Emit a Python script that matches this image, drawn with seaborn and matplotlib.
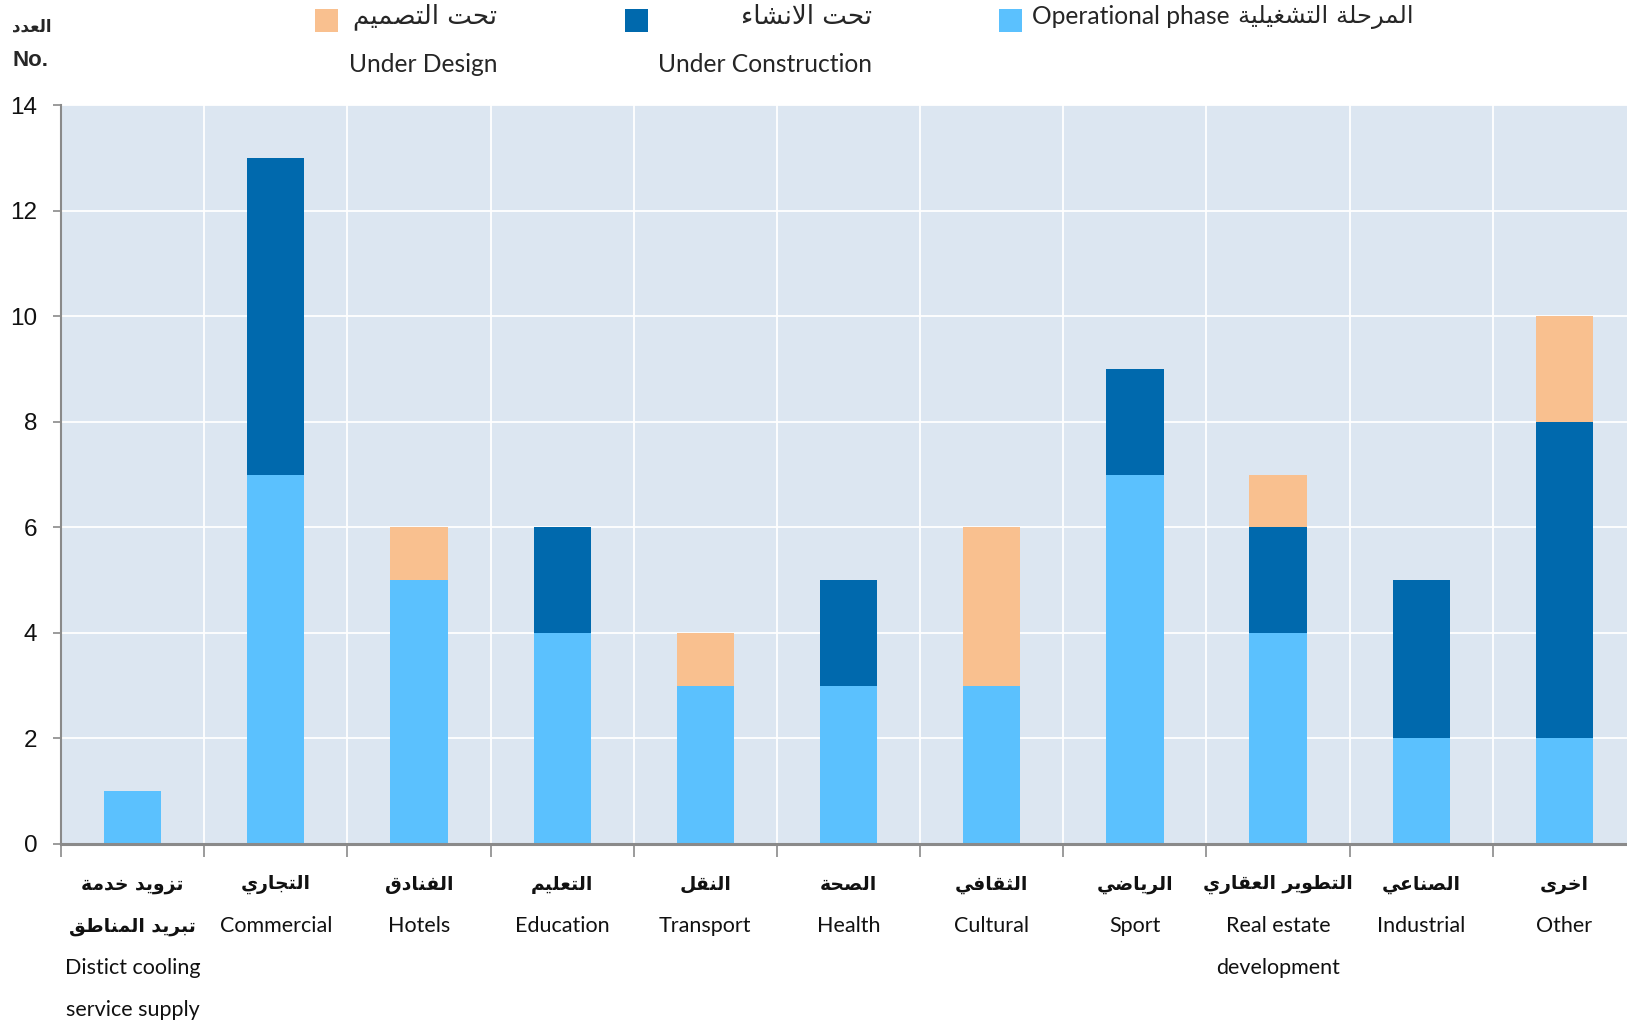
import numpy as np
import matplotlib
matplotlib.use("Agg")
import matplotlib.pyplot as plt
from matplotlib.patches import Rectangle
from matplotlib.transforms import blended_transform_factory
import seaborn as sns

# ---- data -------------------------------------------------------------
labels_ar = [["تزويد خدمة", "تبريد المناطق"], ["التجاري"], ["الفنادق"], ["التعليم"],
             ["النقل"], ["الصحة"], ["الثقافي"], ["الرياضي"], ["التطوير العقاري"],
             ["الصناعي"], ["اخرى"]]
labels_en = [["Distict cooling", "service supply"], ["Commercial"], ["Hotels"],
             ["Education"], ["Transport"], ["Health"], ["Cultural"], ["Sport"],
             ["Real estate", "development"], ["Industrial"], ["Other"]]
operational = [1, 7, 5, 4, 3, 3, 3, 7, 4, 2, 2]
under_construction = [0, 6, 0, 2, 0, 2, 0, 2, 2, 3, 6]
under_design = [0, 0, 1, 0, 1, 0, 3, 0, 1, 0, 2]
y_ticks = [0, 2, 4, 6, 8, 10, 12, 14]

C_OP = "#5bc1fe"
C_UC = "#0069ad"
C_UD = "#f9c08f"
BG = "#dce6f1"

# ---- minimal Arabic shaping (contextual forms + right-to-left order) --
_dual = {"ب": 0xFE8F, "ت": 0xFE95, "ث": 0xFE99, "ج": 0xFE9D, "ح": 0xFEA1, "خ": 0xFEA5,
         "س": 0xFEB1, "ش": 0xFEB5, "ص": 0xFEB9, "ض": 0xFEBD, "ط": 0xFEC1, "ظ": 0xFEC5,
         "ع": 0xFEC9, "غ": 0xFECD, "ف": 0xFED1, "ق": 0xFED5, "ك": 0xFED9, "ل": 0xFEDD,
         "م": 0xFEE1, "ن": 0xFEE5, "ه": 0xFEE9, "ي": 0xFEF1}
_right = {"ا": 0xFE8D, "ة": 0xFE93, "د": 0xFEA9, "ذ": 0xFEAB, "ر": 0xFEAD, "ز": 0xFEAF,
          "و": 0xFEED, "ى": 0xFEEF}
FORMS = {c: tuple(b + i for i in range(4)) for c, b in _dual.items()}
FORMS.update({c: (b, b + 1) for c, b in _right.items()})
FORMS["ء"] = (0xFE80,)


def _joins(c):
    return c in FORMS and len(FORMS[c]) > 1


def _dual_join(c):
    return c in FORMS and len(FORMS[c]) == 4


def ar(text):
    chars = list(text)
    out, i, n = [], 0, len(chars)
    while i < n:
        c = chars[i]
        if c not in FORMS:
            out.append(c)
            i += 1
            continue
        prev = chars[i - 1] if i > 0 else None
        link_prev = prev is not None and _dual_join(prev)
        if c == "ل" and i + 1 < n and chars[i + 1] == "ا":
            out.append(chr(0xFEFC if link_prev else 0xFEFB))
            i += 2
            continue
        nxt = chars[i + 1] if i + 1 < n else None
        link_next = _dual_join(c) and nxt is not None and _joins(nxt)
        f = FORMS[c]
        if len(f) == 1:
            g = f[0]
        elif len(f) == 2:
            g = f[1] if link_prev else f[0]
        else:
            if link_prev and link_next:
                g = f[3]
            elif link_prev:
                g = f[1]
            elif link_next:
                g = f[2]
            else:
                g = f[0]
        out.append(chr(g))
        i += 1
    return "".join(out)[::-1]


# ---- figure -----------------------------------------------------------
sns.set_theme(style="white")
plt.rcParams["font.family"] = ["Lato", "DejaVu Sans"]

W, H = 1627, 1029
fig = plt.figure(figsize=(W / 100, H / 100), dpi=100)
# the plot area runs slightly past the right edge of the canvas
ax = fig.add_axes([61 / W, 1 - 844 / H, 1575 / W, (844 - 105) / H])
ax.set_facecolor(BG)

keys = [" ".join(e) for e in labels_en]
bottom2 = [a + b for a, b in zip(operational, under_construction)]
common = dict(order=keys, width=0.4, saturation=1, errorbar=None, linewidth=0, ax=ax)
sns.barplot(x=keys, y=operational, color=C_OP, **common)
sns.barplot(x=keys, y=under_construction, bottom=operational, color=C_UC, **common)
sns.barplot(x=keys, y=under_design, bottom=bottom2, color=C_UD, **common)

n = len(keys)
ax.set_xlim(-0.5, n - 0.5)
ax.set_ylim(0, 14)
ax.set_xticks(np.arange(-0.5, n, 1.0))
ax.set_xticklabels([])
ax.set_yticks(y_ticks)
ax.set_yticklabels([str(v) for v in y_ticks], fontfamily="Liberation Sans", fontsize=17.5)
ax.set_xlabel("")
ax.set_ylabel("")
ax.set_axisbelow(True)
ax.grid(True, axis="both", color="white", linewidth=1.3)

for s in ("top", "right"):
    ax.spines[s].set_visible(False)
ax.spines["left"].set_color("#8a8a8a")
ax.spines["left"].set_linewidth(1.5)
ax.spines["bottom"].set_color("#8a8a8a")
ax.spines["bottom"].set_linewidth(2.2)
ax.tick_params(axis="x", length=9, width=1.2, color="#8a8a8a", direction="out", bottom=True)
ax.tick_params(axis="y", length=6, width=1.2, color="#8a8a8a", direction="out", pad=11,
               left=True, labelcolor="#111111")

# category labels: Arabic lines first, then English lines
tr = blended_transform_factory(ax.transData, fig.transFigure)
line_px = [884, 926.5, 968, 1010]
for i, (la, le) in enumerate(zip(labels_ar, labels_en)):
    k = 0
    for t in la:
        ax.text(i, 1 - line_px[k] / H, ar(t), transform=tr, ha="center", va="center",
                fontsize=13.5, fontweight="bold", family=["DejaVu Sans"], color="#111111")
        k += 1
    for t in le:
        ax.text(i, 1 - line_px[k] / H, t, transform=tr, ha="center", va="center",
                fontsize=15.5, family=["Lato", "DejaVu Sans"], color="#111111")
        k += 1

# y axis title
fig.text(12 / W, 1 - 26 / H, ar("العدد"), ha="left", va="center", fontsize=12,
         fontweight="bold", family=["DejaVu Sans"])
fig.text(12 / W, 1 - 61 / H, "No.", ha="left", va="center", fontsize=16,
         fontweight="bold", family=["Liberation Sans"])

# legend
def swatch(x0, color):
    fig.patches.append(Rectangle((x0 / W, 1 - 32 / H), 23 / W, 23 / H, transform=fig.transFigure,
                                 facecolor=color, edgecolor="none"))

swatch(315, C_UD)
fig.text(497 / W, 1 - 17 / H, ar("تحت التصميم"), ha="right", va="center", fontsize=18.8,
         family=["DejaVu Sans"])
fig.text(497 / W, 1 - 65 / H, "Under Design", ha="right", va="center", fontsize=17.7)
swatch(625, C_UC)
fig.text(872 / W, 1 - 17 / H, ar("تحت الانشاء"), ha="right", va="center", fontsize=18.8,
         family=["DejaVu Sans"])
fig.text(872 / W, 1 - 65 / H, "Under Construction", ha="right", va="center", fontsize=17.7)
swatch(999, C_OP)
fig.text(1032 / W, 1 - 17 / H, "Operational phase", ha="left", va="center", fontsize=17.7)
fig.text(1414 / W, 1 - 17 / H, ar("المرحلة التشغيلية"), ha="right", va="center",
         fontsize=17.5, family=["DejaVu Sans"])

fig.savefig("out.png", dpi=100)
